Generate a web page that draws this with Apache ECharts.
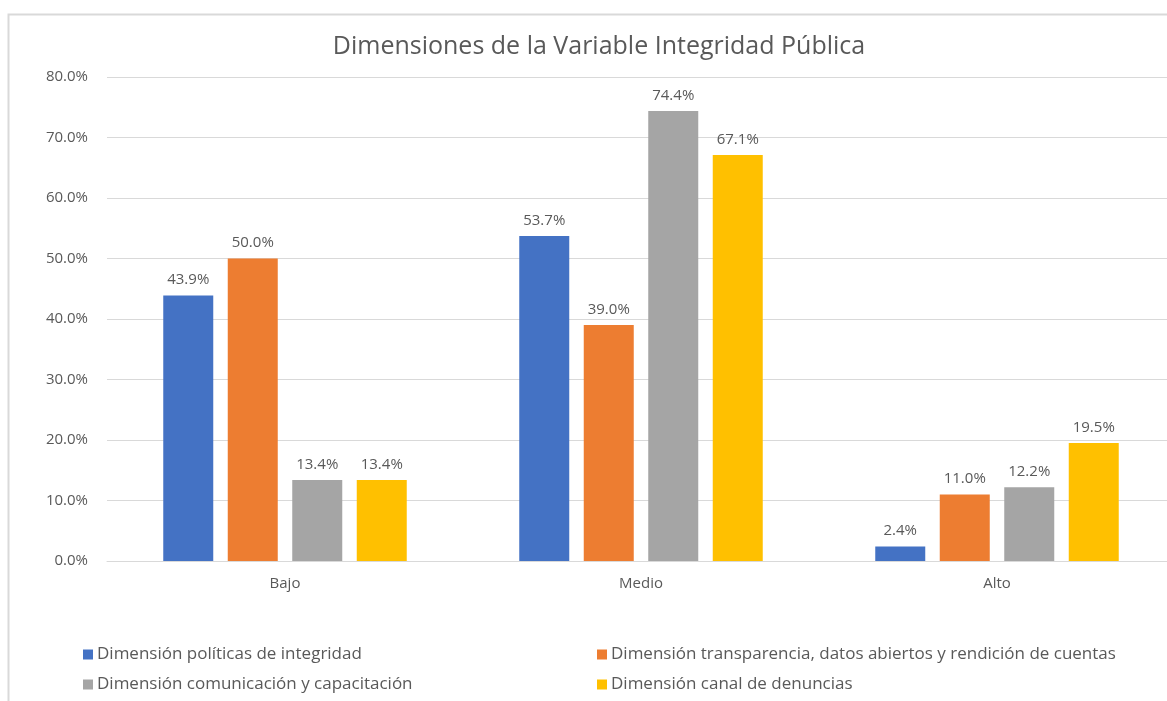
<!DOCTYPE html>
<html>
<head>
<meta charset="utf-8">
<script src="https://cdn.jsdelivr.net/npm/echarts@6/dist/echarts.min.js"></script>
<style>
  html, body { margin: 0; padding: 0; background: #fff; overflow: hidden; }
  #chart { width: 1180px; height: 701px; }
</style>
</head>
<body>
<div id="chart"></div>
<script>
// categorías y valores (%)
const categories = ["Bajo", "Medio", "Alto"];
const seriesNames = [
  "Dimensión políticas de integridad",
  "Dimensión transparencia, datos abiertos y rendición de cuentas",
  "Dimensión comunicación y capacitación",
  "Dimensión canal de denuncias"
];
const politicas = [43.9, 53.7, 2.4];
const transparencia = [50.0, 39.0, 11.0];
const comunicacion = [13.4, 74.4, 12.2];
const denuncias = [13.4, 67.1, 19.5];
const colors = ["#4472c4", "#ed7d31", "#a5a5a5", "#ffc000"];

const font = "'Open Sans', 'Noto Sans', sans-serif";
const txt = "#595959";

const chart = echarts.init(document.getElementById("chart"));

const values = [politicas, transparencia, comunicacion, denuncias];
const series = values.map((v, i) => ({
  name: seriesNames[i],
  type: "bar",
  data: v,
  barWidth: 50,
  barGap: "29%",
  itemStyle: { color: colors[i] },
  label: {
    show: true,
    position: "top",
    distance: 8,
    color: txt,
    fontFamily: font,
    fontSize: 15,
    formatter: p => p.value.toFixed(1) + "%"
  }
}));

// leyenda en dos columnas
const legendBase = {
  orient: "vertical",
  top: 641,
  itemGap: 13,
  itemWidth: 10,
  itemHeight: 10,
  icon: "rect",
  textStyle: { color: txt, fontFamily: font, fontSize: 17, padding: [0, 0, 0, -1] }
};

const option = {
  animation: false,
  color: colors,
  title: {
    text: "Dimensiones de la Variable Integridad Pública",
    left: 594,
    textAlign: "center",
    top: 29,
    textStyle: { color: txt, fontFamily: font, fontSize: 25, fontWeight: "normal" }
  },
  graphic: [{
    type: "rect",
    shape: { x: 8.5, y: 14.5, width: 1200, height: 720 },
    style: { fill: "none", stroke: "#d9d9d9", lineWidth: 2 },
    silent: true
  }],
  legend: [
    Object.assign({}, legendBase, { left: 78, data: [seriesNames[0], seriesNames[2]] }),
    Object.assign({}, legendBase, { left: 592, data: [seriesNames[1], seriesNames[3]] })
  ],
  grid: { left: 107, top: 77, width: 1068, height: 484, containLabel: false },
  xAxis: {
    type: "category",
    data: categories,
    axisTick: { show: false },
    axisLine: { lineStyle: { color: "#d9d9d9", width: 1 } },
    axisLabel: { color: txt, fontFamily: font, fontSize: 15, margin: 15 }
  },
  yAxis: {
    type: "value",
    min: 0,
    max: 80,
    interval: 10,
    axisLine: { show: false },
    axisTick: { show: false },
    splitLine: { lineStyle: { color: "#d9d9d9", width: 1 } },
    axisLabel: {
      color: txt,
      fontFamily: font,
      fontSize: 15,
      margin: 19,
      formatter: v => v.toFixed(1) + "%"
    }
  },
  series: series
};

chart.setOption(option);
</script>
</body>
</html>
